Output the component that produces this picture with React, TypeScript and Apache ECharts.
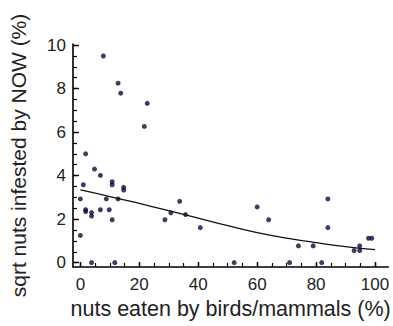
import React, { useEffect, useRef } from "react";
import * as echarts from "echarts";

const nutsEaten = [
  7.8, 12.8, 13.7, 22.7, 21.7, 1.8, 4.8, 6.8, 1.0, 10.8, 10.8, 14.7, 14.7, 0, 8.8,
  12.8, 1.8, 1.8, 3.8, 3.8, 6.8, 9.8, 10.8, 0, 3.8, 11.7, 33.7, 30.7, 35.7, 28.7,
  40.7, 52.2, 60, 63.9, 71, 74, 79, 81.9, 84, 84, 92.9, 94.8, 94.8, 97.8, 98.9,
];
const sqrtInfested = [
  9.5, 8.25, 7.79, 7.32, 6.26, 5.0, 4.3, 4.01, 3.58, 3.72, 3.58, 3.46, 3.34, 2.93, 2.93,
  2.93, 2.43, 2.35, 2.3, 2.14, 2.43, 2.43, 1.97, 1.25, 0, 0, 2.82, 2.29, 2.21, 1.97,
  1.61, 0, 2.56, 1.97, 0, 0.77, 0.77, 0, 2.93, 1.61, 0.56, 0.77, 0.56, 1.12, 1.12,
];
const fitX = [0, 10, 20, 30, 40, 50, 60, 70, 80, 90, 100];
const fitY = [3.34, 3.04, 2.72, 2.39, 2.05, 1.7, 1.38, 1.13, 0.92, 0.74, 0.6];

const xMajorTicks = [0, 20, 40, 60, 80, 100];
const xMinorTicks = [0, 5, 10, 15, 20, 25, 30, 35, 40, 45, 50, 55, 60, 65, 70, 75, 80, 85, 90, 95, 100];
const yMajorTicks = [0, 2, 4, 6, 8, 10];
const yMinorTicks = [
  0, 0.5, 1, 1.5, 2, 2.5, 3, 3.5, 4, 4.5, 5, 5.5, 6, 6.5, 7, 7.5, 8, 8.5, 9, 9.5, 10,
];

const xTitle = "nuts eaten by birds/mammals (%)";
const yTitle = "sqrt nuts infested by NOW (%)";

export default function App() {
  const ref = useRef<HTMLDivElement>(null);
  useEffect(() => {
    if (!ref.current) return;
    const chart = echarts.init(ref.current, null, { renderer: "svg" });
    const font = "Liberation Sans, Arial, sans-serif";
    const textColor = "#222";
    const xRange = { min: -2.5, max: 104.5 };
    const yRange = { min: -0.2, max: 10.05 };
    chart.setOption({
      animation: false,
      backgroundColor: "#fff",
      grid: { left: 71.5, right: 0, top: 44, bottom: 59, containLabel: false },
      xAxis: [
        {
          type: "value",
          position: "bottom",
          ...xRange,
          axisLine: { show: true, onZero: false, lineStyle: { color: "#000", width: 1.6 } },
          axisTick: {
            show: true,
            inside: true,
            length: 5,
            customValues: xMajorTicks,
            lineStyle: { color: "#000", width: 1.4 },
          },
          axisLabel: {
            show: true,
            customValues: xMajorTicks,
            fontSize: 17,
            fontFamily: font,
            color: textColor,
            margin: 9,
          },
          splitLine: { show: false },
          name: xTitle,
          nameLocation: "middle",
          nameGap: 31,
          nameTextStyle: { fontSize: 21.5, fontFamily: font, color: textColor },
        },
        {
          type: "value",
          position: "bottom",
          offset: 0,
          ...xRange,
          axisLine: { show: false, onZero: false },
          axisTick: {
            show: true,
            inside: true,
            length: 4,
            customValues: xMinorTicks,
            lineStyle: { color: "#000", width: 1.2 },
          },
          axisLabel: { show: false },
          splitLine: { show: false },
        },
      ],
      yAxis: [
        {
          type: "value",
          position: "left",
          ...yRange,
          axisLine: { show: true, onZero: false, lineStyle: { color: "#000", width: 1.6 } },
          axisTick: {
            show: true,
            inside: true,
            length: 6,
            customValues: yMajorTicks,
            lineStyle: { color: "#000", width: 1.4 },
          },
          axisLabel: {
            show: true,
            customValues: yMajorTicks,
            fontSize: 17,
            fontFamily: font,
            color: textColor,
            margin: 7,
          },
          splitLine: { show: false },
          name: yTitle,
          nameLocation: "middle",
          nameGap: 44,
          nameRotate: 90,
          nameTextStyle: { fontSize: 21, fontFamily: font, color: textColor },
        },
        {
          type: "value",
          position: "left",
          offset: 0,
          ...yRange,
          axisLine: { show: false, onZero: false },
          axisTick: {
            show: true,
            inside: true,
            length: 4,
            customValues: yMinorTicks,
            lineStyle: { color: "#000", width: 1.2 },
          },
          axisLabel: { show: false },
          splitLine: { show: false },
        },
      ],
      series: [
        {
          type: "scatter",
          xAxisIndex: 0,
          yAxisIndex: 0,
          symbol: "circle",
          symbolSize: 5,
          itemStyle: { color: "#0c0c3c" },
          data: nutsEaten.map((x, i) => [x, sqrtInfested[i]]),
        },
        {
          type: "line",
          xAxisIndex: 0,
          yAxisIndex: 0,
          smooth: true,
          showSymbol: false,
          symbol: "none",
          lineStyle: { color: "#111", width: 1.3 },
          data: fitX.map((x, i) => [x, fitY[i]]),
        },
      ],
    });
    return () => chart.dispose();
  }, []);
  return (
    <div
      ref={ref}
      style={{ position: "fixed", left: 0, top: 0, width: 393, height: 326, background: "#fff" }}
    />
  );
}
